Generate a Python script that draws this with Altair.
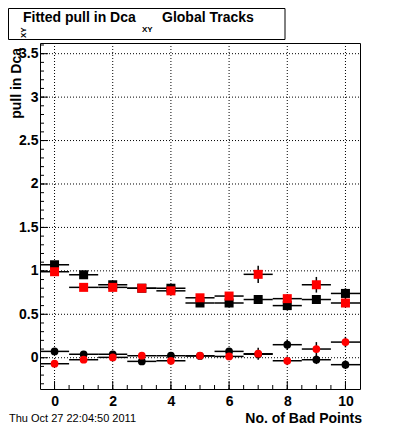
import altair as alt
import pandas as pd
import numpy as np

FONT = "Liberation Sans"

# ---- data ----
bad_points = [0, 1, 2, 3, 4, 5, 6, 7, 8, 9, 10]
black_sq = [1.07, 0.955, 0.84, 0.80, 0.80, 0.63, 0.63, 0.67, 0.60, 0.67, 0.74]
black_sq_err = [0.03, 0.03, 0.03, 0.03, 0.03, 0.03, 0.03, 0.04, 0.05, 0.05, 0.06]
red_sq = [0.99, 0.81, 0.81, 0.80, 0.77, 0.69, 0.71, 0.96, 0.68, 0.84, 0.63]
red_sq_err = [0.03, 0.03, 0.03, 0.03, 0.03, 0.03, 0.04, 0.10, 0.05, 0.09, 0.05]
black_circ = [0.073, 0.04, 0.04, -0.042, 0.023, 0.02, 0.073, 0.04, 0.15, -0.023, -0.08]
black_circ_err = [0.03, 0.03, 0.03, 0.03, 0.03, 0.03, 0.03, 0.04, 0.06, 0.05, 0.05]
red_circ = [-0.069, -0.023, 0.004, 0.023, -0.035, 0.023, 0.015, 0.046, -0.035, 0.10, 0.18]
red_circ_err = [0.03, 0.03, 0.03, 0.03, 0.03, 0.03, 0.03, 0.07, 0.05, 0.08, 0.06]

x_major = [0, 2, 4, 6, 8, 10]
y_major = [0, 0.5, 1, 1.5, 2, 2.5, 3, 3.5]
x_minor = [v / 2 for v in range(0, 21)]
y_minor = [round(v / 10, 1) for v in range(-3, 37)]

W, H = 320, 346

rows = []
for name, vals, errs in [
    ("black_sq", black_sq, black_sq_err),
    ("black_circ", black_circ, black_circ_err),
    ("red_sq", red_sq, red_sq_err),
    ("red_circ", red_circ, red_circ_err),
]:
    for xv, yv, ev in zip(bad_points, vals, errs):
        rows.append(dict(series=name, x=xv, y=yv, err=ev))
df = pd.DataFrame(rows)

xscale = alt.Scale(domain=[-0.5, 10.5], nice=False, zero=False)
yscale = alt.Scale(domain=[-0.36, 3.623], nice=False, zero=False)

xaxis = alt.Axis(values=x_major, format="d", labelFont=FONT, labelFontWeight="bold",
                 labelFontSize=14, labelColor="black", ticks=False, domain=False,
                 grid=False, title=None, labelPadding=5)
yaxis = alt.Axis(values=y_major, format="~g", labelFont=FONT, labelFontWeight="bold",
                 labelFontSize=14, labelColor="black", ticks=False, domain=False,
                 grid=False, title=None, labelPadding=2)

# grid
ygrid = alt.Chart(pd.DataFrame({"v": y_major})).mark_rule(
    color="black", strokeDash=[1, 2], strokeWidth=1).encode(
    y=alt.Y("v:Q", scale=yscale, axis=yaxis), x=alt.value(0), x2=alt.value(W))
xgrid = alt.Chart(pd.DataFrame({"v": x_major})).mark_rule(
    color="black", strokeDash=[1, 2], strokeWidth=1).encode(
    x=alt.X("v:Q", scale=xscale, axis=xaxis), y=alt.value(0), y2=alt.value(H))

# ticks (inside the frame)
ytick_maj = alt.Chart(pd.DataFrame({"v": y_major})).mark_rule(color="black").encode(
    y=alt.Y("v:Q", scale=yscale), x=alt.value(0), x2=alt.value(8))
ytick_min = alt.Chart(pd.DataFrame({"v": y_minor})).mark_rule(color="black").encode(
    y=alt.Y("v:Q", scale=yscale), x=alt.value(0), x2=alt.value(4))
xtick_maj = alt.Chart(pd.DataFrame({"v": x_major})).mark_rule(color="black").encode(
    x=alt.X("v:Q", scale=xscale), y=alt.value(H), y2=alt.value(H - 8))
xtick_min = alt.Chart(pd.DataFrame({"v": x_minor})).mark_rule(color="black").encode(
    x=alt.X("v:Q", scale=xscale), y=alt.value(H), y2=alt.value(H - 4))

base = alt.Chart(df).transform_calculate(
    xlo="datum.x - 0.5", xhi="datum.x + 0.5",
    ylo="datum.y - datum.err", yhi="datum.y + datum.err")

layers = [ygrid, xgrid, ytick_maj, ytick_min, xtick_maj, xtick_min]
for name in ["black_sq", "black_circ", "red_sq", "red_circ"]:
    sub = base.transform_filter(alt.datum.series == name)
    hbar = sub.mark_rule(color="black", strokeWidth=1.5).encode(
        x=alt.X("xlo:Q", scale=xscale), x2="xhi:Q", y=alt.Y("y:Q", scale=yscale))
    vbar = sub.mark_rule(color="black", strokeWidth=1.5).encode(
        x=alt.X("x:Q", scale=xscale), y=alt.Y("ylo:Q", scale=yscale), y2="yhi:Q")
    layers += [hbar, vbar]
for name in ["black_sq", "black_circ", "red_sq", "red_circ"]:
    sub = base.transform_filter(alt.datum.series == name)
    shape = "square" if "sq" in name else "circle"
    color = "black" if "black" in name else "#ff0000"
    size = 81 if shape == "square" else 60
    pts = sub.mark_point(shape=shape, filled=True, opacity=1, color=color, size=size).encode(
        x=alt.X("x:Q", scale=xscale), y=alt.Y("y:Q", scale=yscale))
    layers.append(pts)


def label(text, x, y, size, align="left", angle=0, weight="bold"):
    return alt.Chart(pd.DataFrame({"t": [text]})).mark_text(
        align=align, baseline="alphabetic", angle=angle, fontSize=size,
        fontWeight=weight, font=FONT, color="black").encode(
        x=alt.value(x), y=alt.value(y), text="t:N")


title_box = alt.Chart(pd.DataFrame({"a": [0]})).mark_rect(
    fill="white", stroke="black", strokeWidth=1).encode(
    x=alt.value(-31.5), x2=alt.value(245), y=alt.value(-34.5), y2=alt.value(-3.5))

layers += [
    title_box,
    label("Fitted pull in Dca", -17, -21, 14),
    label("XY", 102, -11, 8),
    label("Global Tracks", 122, -21, 14),
    label("pull in Dca", -19, 5, 14, align="right", angle=270),
    label("XY", -14, -5, 8, align="left", angle=270),
    label("No. of Bad Points", 322, 380, 14, align="right"),
    label("Thu Oct 27 22:04:50 2011", -31, 379, 11, weight="normal"),
]

chart = alt.layer(*layers).properties(
    width=W, height=H,
    autosize=alt.AutoSizeParams(type="none"),
    padding={"left": 32, "top": 35, "right": 28, "bottom": 36},
    background="white",
).configure_view(stroke="black", strokeWidth=1)

chart.save("out.html", embed_options={"renderer": "svg", "actions": False})
